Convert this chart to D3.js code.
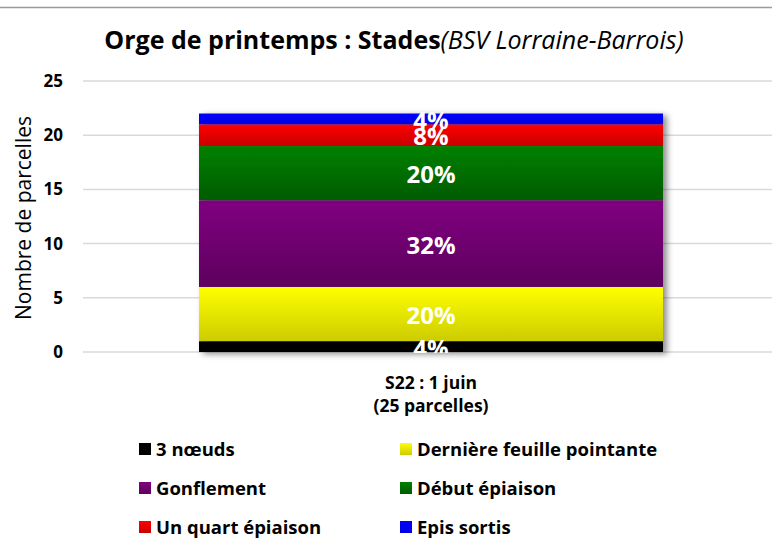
<!DOCTYPE html>
<html>
<head>
<meta charset="utf-8">
<script src="https://cdn.jsdelivr.net/npm/d3@7"></script>
<style>
    body { margin: 0; background: #fff; }
    svg { display: block; font-family: "Open Sans", Lato, sans-serif; }
</style>
</head>
<body>
<svg id="chart" width="772" height="546"></svg>
<script>
// categories (one stacked bar)
var categories = ['S22 : 1 juin'];
var categorySub = ['(25 parcelles)'];

// stages, bottom to top
var stages = ['3 nœuds', 'Dernière feuille pointante', 'Gonflement', 'Début épiaison', 'Un quart épiaison', 'Epis sortis'];
var counts = [1, 5, 8, 5, 2, 1];
var percents = ['4%', '20%', '32%', '20%', '8%', '4%'];
var colorsTop = ['#000000', '#ffff00', '#800080', '#008000', '#ff0000', '#0000ff'];
var colorsBottom = ['#000000', '#cccc00', '#5e005e', '#005c00', '#c80000', '#0000e0'];

var yTicks = [0, 5, 10, 15, 20, 25];

var svg = d3.select('#chart');
var width = 772, height = 546;
var margin = {left: 83, right: 0, top: 81, bottom: 352};

var x = d3.scaleBand().domain(categories).range([margin.left, 779]).padding(0.2);
var y = d3.scaleLinear().domain([0, 25]).range([margin.bottom, margin.top]);

var defs = svg.append('defs');

/**
 * vertical gradient for each stage
 */
stages.forEach(function (s, i) {
    var g = defs.append('linearGradient')
        .attr('id', 'grad' + i)
        .attr('x1', 0).attr('y1', 0).attr('x2', 0).attr('y2', 1);
    g.append('stop').attr('offset', '0%').attr('stop-color', colorsTop[i]);
    g.append('stop').attr('offset', '100%').attr('stop-color', colorsBottom[i]);
});

var shadow = defs.append('filter').attr('id', 'shadow')
    .attr('x', '-10%').attr('y', '-10%').attr('width', '130%').attr('height', '130%');
shadow.append('feDropShadow')
    .attr('dx', 4).attr('dy', 2).attr('stdDeviation', 3)
    .attr('flood-color', '#000').attr('flood-opacity', 0.45);

defs.append('clipPath').attr('id', 'plotclip')
    .append('rect')
    .attr('x', 0).attr('y', margin.top - 10)
    .attr('width', width).attr('height', margin.bottom - margin.top + 11);

// frame line at top
svg.append('line')
    .attr('x1', 0).attr('x2', width).attr('y1', 7.5).attr('y2', 7.5)
    .attr('stroke', '#9a9a9a').attr('stroke-width', 1.5);

// title
var title = svg.append('text')
    .attr('x', 394).attr('y', 49)
    .attr('text-anchor', 'middle')
    .style('font-size', '25px')
    .attr('fill', '#000');
title.append('tspan').style('font-weight', 'bold').text('Orge de printemps : Stades');
title.append('tspan').style('font-style', 'italic').text('(BSV Lorraine-Barrois)');

// gridlines + y axis
var yAxis = d3.axisLeft(y).tickValues(yTicks).tickSize(0).tickPadding(20);
var gy = svg.append('g')
    .attr('transform', 'translate(' + (margin.left) + ',0)')
    .call(yAxis);
gy.select('.domain').remove();
gy.selectAll('text')
    .style('font-size', '17px')
    .style('font-weight', 'bold')
    .style('font-family', '"Open Sans", sans-serif')
    .attr('fill', '#000');

svg.append('g').selectAll('line.grid')
    .data(yTicks).enter()
    .append('line')
    .attr('class', 'grid')
    .attr('x1', margin.left).attr('x2', width)
    .attr('y1', function (d) { return y(d); })
    .attr('y2', function (d) { return y(d); })
    .attr('stroke', '#d9d9d9')
    .attr('stroke-width', 1.5);

svg.append('text')
    .attr('transform', 'translate(31,218) rotate(-90)')
    .attr('text-anchor', 'middle')
    .style('font-size', '21px')
    .attr('fill', '#000')
    .text('Nombre de parcelles');

// stacked data
var rows = stages.map(function (s, i) {
    var base = d3.sum(counts.slice(0, i));
    return {stage: s, idx: i, y0: base, y1: base + counts[i], label: percents[i]};
});

var bar = svg.append('g').attr('filter', 'url(#shadow)');
bar.selectAll('rect')
    .data(rows).enter()
    .append('rect')
    .attr('x', x(categories[0]))
    .attr('width', x.bandwidth())
    .attr('y', function (d) { return y(d.y1); })
    .attr('height', function (d) { return y(d.y0) - y(d.y1); })
    .attr('fill', function (d) { return 'url(#grad' + d.idx + ')'; });

svg.append('g').attr('clip-path', 'url(#plotclip)')
    .selectAll('text')
    .data(rows).enter()
    .append('text')
    .attr('x', x(categories[0]) + x.bandwidth() / 2)
    .attr('y', function (d) { return (y(d.y0) + y(d.y1)) / 2 + 10; })
    .attr('text-anchor', 'middle')
    .style('font-size', '24px')
    .style('font-weight', 'bold')
    .attr('fill', '#fff')
    .text(function (d) { return d.label; });

// category label
var cx = x(categories[0]) + x.bandwidth() / 2;
svg.append('text')
    .attr('x', cx).attr('y', 389)
    .attr('text-anchor', 'middle')
    .style('font-size', '17.5px').style('font-weight', 'bold')
    .text(categories[0]);
svg.append('text')
    .attr('x', cx).attr('y', 412)
    .attr('text-anchor', 'middle')
    .style('font-size', '17.5px').style('font-weight', 'bold')
    .text(categorySub[0]);

// legend, two columns
var legendCols = [139, 400];
var legendRows = [449, 488, 527];
var legend = svg.append('g').selectAll('g')
    .data(stages).enter()
    .append('g')
    .attr('transform', function (d, i) {
        return 'translate(' + legendCols[i % 2] + ',' + legendRows[Math.floor(i / 2)] + ')';
    });
legend.append('rect')
    .attr('x', 0).attr('y', -6)
    .attr('width', 12).attr('height', 12)
    .attr('fill', function (d, i) { return 'url(#grad' + i + ')'; });
legend.append('text')
    .attr('x', 17).attr('y', 7)
    .style('font-size', '18.5px').style('font-weight', 'bold')
    .text(function (d) { return d; });
</script>
</body>
</html>
